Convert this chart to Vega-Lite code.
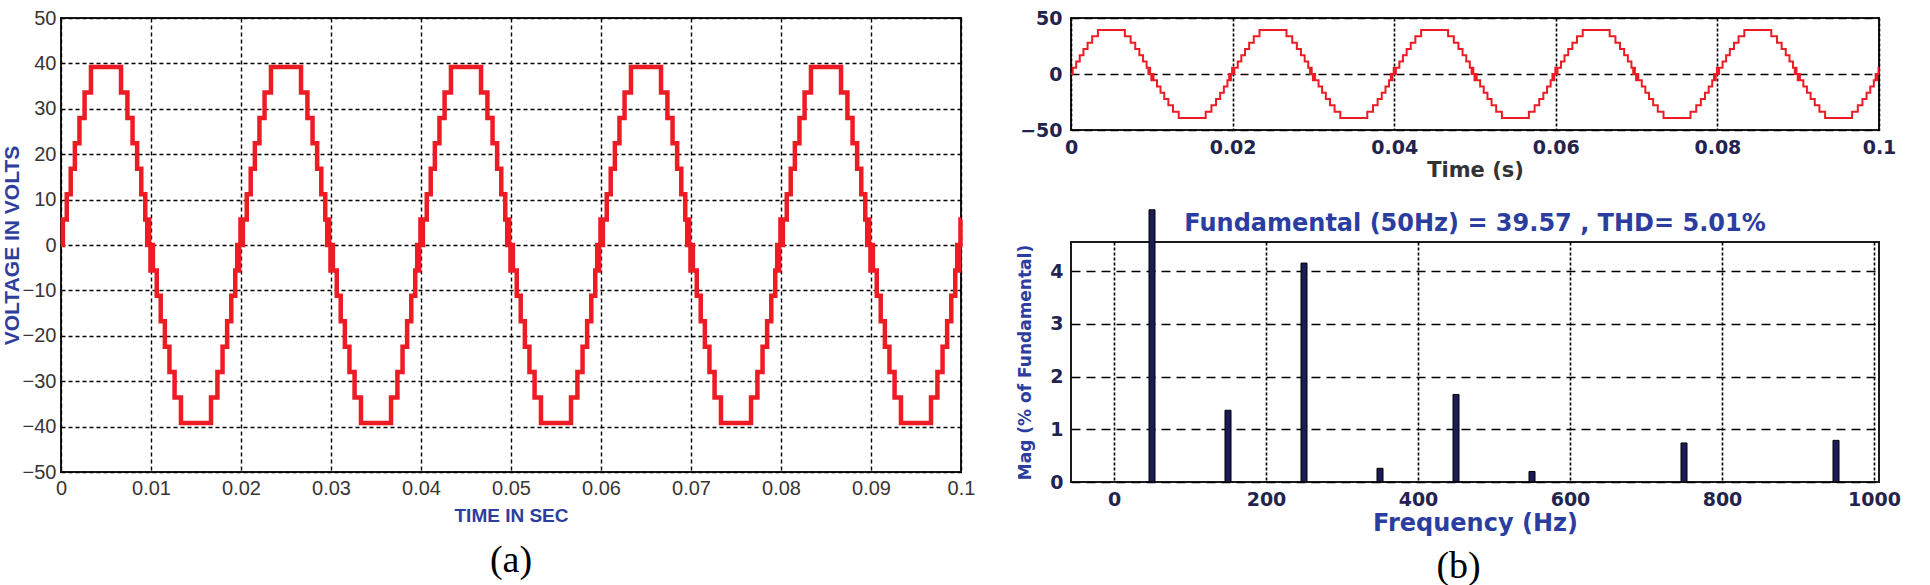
{
  "$schema": "https://vega.github.io/schema/vega-lite/v6.json",
  "padding": {"left": 0, "top": 7, "right": 0, "bottom": 0},
  "background": "white",
  "config": {"view": {"stroke": "#1a1a1a", "strokeWidth": 2}, "font": "Liberation Sans"},
  "datasets": {
    "wave": [
      {"t":0,"v":0},{"t":0.00021,"v":5.6},{"t":0.00064,"v":11.2},{"t":0.00108,"v":16.8},{"t":0.00154,"v":22.4},{"t":0.00205,"v":28},{"t":0.00262,"v":33.6},{"t":0.00333,"v":39.2},{"t":0.00667,"v":33.6},{"t":0.00738,"v":28},{"t":0.00795,"v":22.4},{"t":0.00846,"v":16.8},{"t":0.00892,"v":11.2},{"t":0.00936,"v":5.6},{"t":0.00958,"v":0},{"t":0.00964,"v":5.6},{"t":0.00979,"v":0},{"t":0.00994,"v":-5.6},{"t":0.01,"v":0},{"t":0.01021,"v":-5.6},{"t":0.01064,"v":-11.2},{"t":0.01108,"v":-16.8},{"t":0.01154,"v":-22.4},{"t":0.01205,"v":-28},{"t":0.01262,"v":-33.6},{"t":0.01333,"v":-39.2},{"t":0.01667,"v":-33.6},{"t":0.01738,"v":-28},{"t":0.01795,"v":-22.4},{"t":0.01846,"v":-16.8},{"t":0.01892,"v":-11.2},{"t":0.01936,"v":-5.6},{"t":0.01958,"v":0},{"t":0.01964,"v":-5.6},{"t":0.01979,"v":0},{"t":0.01994,"v":5.6},
      {"t":0.02,"v":0},{"t":0.02021,"v":5.6},{"t":0.02064,"v":11.2},{"t":0.02108,"v":16.8},{"t":0.02154,"v":22.4},{"t":0.02205,"v":28},{"t":0.02262,"v":33.6},{"t":0.02333,"v":39.2},{"t":0.02667,"v":33.6},{"t":0.02738,"v":28},{"t":0.02795,"v":22.4},{"t":0.02846,"v":16.8},{"t":0.02892,"v":11.2},{"t":0.02936,"v":5.6},{"t":0.02958,"v":0},{"t":0.02964,"v":5.6},{"t":0.02979,"v":0},{"t":0.02994,"v":-5.6},{"t":0.03,"v":0},{"t":0.03021,"v":-5.6},{"t":0.03064,"v":-11.2},{"t":0.03108,"v":-16.8},{"t":0.03154,"v":-22.4},{"t":0.03205,"v":-28},{"t":0.03262,"v":-33.6},{"t":0.03333,"v":-39.2},{"t":0.03667,"v":-33.6},{"t":0.03738,"v":-28},{"t":0.03795,"v":-22.4},{"t":0.03846,"v":-16.8},{"t":0.03892,"v":-11.2},{"t":0.03936,"v":-5.6},{"t":0.03958,"v":0},{"t":0.03964,"v":-5.6},{"t":0.03979,"v":0},{"t":0.03994,"v":5.6},
      {"t":0.04,"v":0},{"t":0.04021,"v":5.6},{"t":0.04064,"v":11.2},{"t":0.04108,"v":16.8},{"t":0.04154,"v":22.4},{"t":0.04205,"v":28},{"t":0.04262,"v":33.6},{"t":0.04333,"v":39.2},{"t":0.04667,"v":33.6},{"t":0.04738,"v":28},{"t":0.04795,"v":22.4},{"t":0.04846,"v":16.8},{"t":0.04892,"v":11.2},{"t":0.04936,"v":5.6},{"t":0.04958,"v":0},{"t":0.04964,"v":5.6},{"t":0.04979,"v":0},{"t":0.04994,"v":-5.6},{"t":0.05,"v":0},{"t":0.05021,"v":-5.6},{"t":0.05064,"v":-11.2},{"t":0.05108,"v":-16.8},{"t":0.05154,"v":-22.4},{"t":0.05205,"v":-28},{"t":0.05262,"v":-33.6},{"t":0.05333,"v":-39.2},{"t":0.05667,"v":-33.6},{"t":0.05738,"v":-28},{"t":0.05795,"v":-22.4},{"t":0.05846,"v":-16.8},{"t":0.05892,"v":-11.2},{"t":0.05936,"v":-5.6},{"t":0.05958,"v":0},{"t":0.05964,"v":-5.6},{"t":0.05979,"v":0},{"t":0.05994,"v":5.6},
      {"t":0.06,"v":0},{"t":0.06021,"v":5.6},{"t":0.06064,"v":11.2},{"t":0.06108,"v":16.8},{"t":0.06154,"v":22.4},{"t":0.06205,"v":28},{"t":0.06262,"v":33.6},{"t":0.06333,"v":39.2},{"t":0.06667,"v":33.6},{"t":0.06738,"v":28},{"t":0.06795,"v":22.4},{"t":0.06846,"v":16.8},{"t":0.06892,"v":11.2},{"t":0.06936,"v":5.6},{"t":0.06958,"v":0},{"t":0.06964,"v":5.6},{"t":0.06979,"v":0},{"t":0.06994,"v":-5.6},{"t":0.07,"v":0},{"t":0.07021,"v":-5.6},{"t":0.07064,"v":-11.2},{"t":0.07108,"v":-16.8},{"t":0.07154,"v":-22.4},{"t":0.07205,"v":-28},{"t":0.07262,"v":-33.6},{"t":0.07333,"v":-39.2},{"t":0.07667,"v":-33.6},{"t":0.07738,"v":-28},{"t":0.07795,"v":-22.4},{"t":0.07846,"v":-16.8},{"t":0.07892,"v":-11.2},{"t":0.07936,"v":-5.6},{"t":0.07958,"v":0},{"t":0.07964,"v":-5.6},{"t":0.07979,"v":0},{"t":0.07994,"v":5.6},
      {"t":0.08,"v":0},{"t":0.08021,"v":5.6},{"t":0.08064,"v":11.2},{"t":0.08108,"v":16.8},{"t":0.08154,"v":22.4},{"t":0.08205,"v":28},{"t":0.08262,"v":33.6},{"t":0.08333,"v":39.2},{"t":0.08667,"v":33.6},{"t":0.08738,"v":28},{"t":0.08795,"v":22.4},{"t":0.08846,"v":16.8},{"t":0.08892,"v":11.2},{"t":0.08936,"v":5.6},{"t":0.08958,"v":0},{"t":0.08964,"v":5.6},{"t":0.08979,"v":0},{"t":0.08994,"v":-5.6},{"t":0.09,"v":0},{"t":0.09021,"v":-5.6},{"t":0.09064,"v":-11.2},{"t":0.09108,"v":-16.8},{"t":0.09154,"v":-22.4},{"t":0.09205,"v":-28},{"t":0.09262,"v":-33.6},{"t":0.09333,"v":-39.2},{"t":0.09667,"v":-33.6},{"t":0.09738,"v":-28},{"t":0.09795,"v":-22.4},{"t":0.09846,"v":-16.8},{"t":0.09892,"v":-11.2},{"t":0.09936,"v":-5.6},{"t":0.09958,"v":0},{"t":0.09964,"v":-5.6},{"t":0.09979,"v":0},{"t":0.09994,"v":5.6},
      {"t":0.1,"v":5.6}
    ],
    "spectrum": [
      {"f":50,"mag":5.16},{"f":150,"mag":1.36},{"f":250,"mag":4.15},{"f":350,"mag":0.26},{"f":450,"mag":1.66},{"f":550,"mag":0.2},{"f":750,"mag":0.74},{"f":950,"mag":0.79}
    ]
  },
  "spacing": 39,
  "hconcat": [
    {
      "width": 900,
      "height": 454,
      "title": {"text": "(a)", "orient": "bottom", "anchor": "middle", "frame": "group", "font": "Liberation Serif", "fontSize": 38, "fontWeight": "normal", "color": "black", "offset": 17},
      "data": {"name": "wave"},
      "mark": {"type": "line", "interpolate": "step-after", "color": "#ED1C24", "strokeWidth": 4.5},
      "encoding": {
        "x": {"field": "t", "type": "quantitative", "scale": {"domain": [0, 0.1], "nice": false, "zero": false},
          "axis": {"title": "TIME IN SEC", "values": [0, 0.01, 0.02, 0.03, 0.04, 0.05, 0.06, 0.07, 0.08, 0.09, 0.1], "format": "~g",
            "grid": true, "gridDash": [4, 3], "gridColor": "black", "gridWidth": 1.4, "gridOpacity": 1,
            "domain": false, "ticks": false, "labelFlush": false, "labelOverlap": false,
            "labelFont": "Liberation Sans Narrow, Liberation Sans", "labelFontSize": 20, "labelColor": "#3a3434", "labelPadding": 6,
            "titleFont": "Liberation Sans", "titleFontSize": 19, "titleFontWeight": "bold", "titleColor": "#2E3E9C", "titlePadding": 8}},
        "y": {"field": "v", "type": "quantitative", "scale": {"domain": [-50, 50], "nice": false},
          "axis": {"title": "VOLTAGE IN VOLTS", "values": [-50, -40, -30, -20, -10, 0, 10, 20, 30, 40, 50],
            "grid": true, "gridDash": [4, 3], "gridColor": "black", "gridWidth": 1.4, "gridOpacity": 1,
            "domain": false, "ticks": false, "labelOverlap": false,
            "labelFont": "Liberation Sans Narrow, Liberation Sans", "labelFontSize": 20, "labelColor": "#3a3434", "labelPadding": 5,
            "titleFont": "Liberation Sans", "titleFontSize": 21, "titleFontWeight": "bold", "titleColor": "#2E3E9C", "titlePadding": 0}}
      }
    },
    {
      "spacing": 27,
      "title": {"text": "(b)", "orient": "bottom", "anchor": "middle", "font": "Liberation Serif", "fontSize": 38, "fontWeight": "normal", "color": "black", "offset": 12},
      "vconcat": [
        {
          "width": 808,
          "height": 112,
          "data": {"name": "wave"},
          "mark": {"type": "line", "interpolate": "step-after", "color": "#ED1C24", "strokeWidth": 2},
          "encoding": {
            "x": {"field": "t", "type": "quantitative", "scale": {"domain": [0, 0.1], "nice": false, "zero": false},
              "axis": {"title": "Time (s)", "values": [0, 0.02, 0.04, 0.06, 0.08, 0.1], "format": "~g",
                "grid": true, "gridDash": [3, 2], "gridColor": "black", "gridWidth": 1.6, "gridOpacity": 1,
                "domain": false, "ticks": false, "labelFlush": false, "labelOverlap": false,
                "labelFont": "DejaVu Sans", "labelFontWeight": "bold", "labelFontSize": 19, "labelColor": "#23234e", "labelPadding": 8,
                "titleFont": "DejaVu Sans", "titleFontSize": 21, "titleFontWeight": "bold", "titleColor": "#333333", "titlePadding": 2}},
            "y": {"field": "v", "type": "quantitative", "scale": {"domain": [-50, 50], "nice": false},
              "axis": {"title": null, "values": [-50, 0, 50],
                "grid": true, "gridDash": [8, 5], "gridColor": "black", "gridWidth": 1.5, "gridOpacity": 1,
                "domain": false, "ticks": false, "labelOverlap": false,
                "labelFont": "DejaVu Sans", "labelFontWeight": "bold", "labelFontSize": 19, "labelColor": "#23234e", "labelPadding": 9}}
          }
        },
        {
          "width": 808,
          "height": 240,
          "title": {"text": "Fundamental (50Hz) = 39.57 , THD= 5.01%", "anchor": "middle", "frame": "group", "font": "DejaVu Sans", "fontSize": 24, "fontWeight": "bold", "color": "#2B3EA0", "offset": -27},
          "data": {"name": "spectrum"},
          "mark": {"type": "bar", "size": 6, "color": "#1c1c55", "stroke": "black", "strokeWidth": 1},
          "encoding": {
            "x": {"field": "f", "type": "quantitative", "scale": {"domain": [-50, 1000], "nice": false, "zero": false},
              "axis": {"title": "Frequency (Hz)", "values": [0, 200, 400, 600, 800, 1000], "format": "d",
                "grid": true, "gridDash": [3, 2], "gridColor": "black", "gridWidth": 1.6, "gridOpacity": 1,
                "domain": false, "ticks": false, "labelFlush": false, "labelOverlap": false,
                "labelFont": "DejaVu Sans", "labelFontWeight": "bold", "labelFontSize": 19, "labelColor": "#23234e", "labelPadding": 8,
                "titleFont": "DejaVu Sans", "titleFontSize": 24, "titleFontWeight": "bold", "titleColor": "#2B3EA0", "titlePadding": 2}},
            "y": {"field": "mag", "type": "quantitative", "scale": {"domain": [0, 4.55], "nice": false},
              "axis": {"title": "Mag (% of Fundamental)", "values": [0, 1, 2, 3, 4],
                "grid": true, "gridDash": [9, 6], "gridColor": "black", "gridWidth": 1.5, "gridOpacity": 1,
                "domain": false, "ticks": false, "labelOverlap": false,
                "labelFont": "DejaVu Sans", "labelFontWeight": "bold", "labelFontSize": 19, "labelColor": "#23234e", "labelPadding": 8,
                "titleFont": "DejaVu Sans", "titleFontSize": 17, "titleFontWeight": "bold", "titleColor": "#2B3EA0", "titlePadding": 15}}
          }
        }
      ]
    }
  ]
}
